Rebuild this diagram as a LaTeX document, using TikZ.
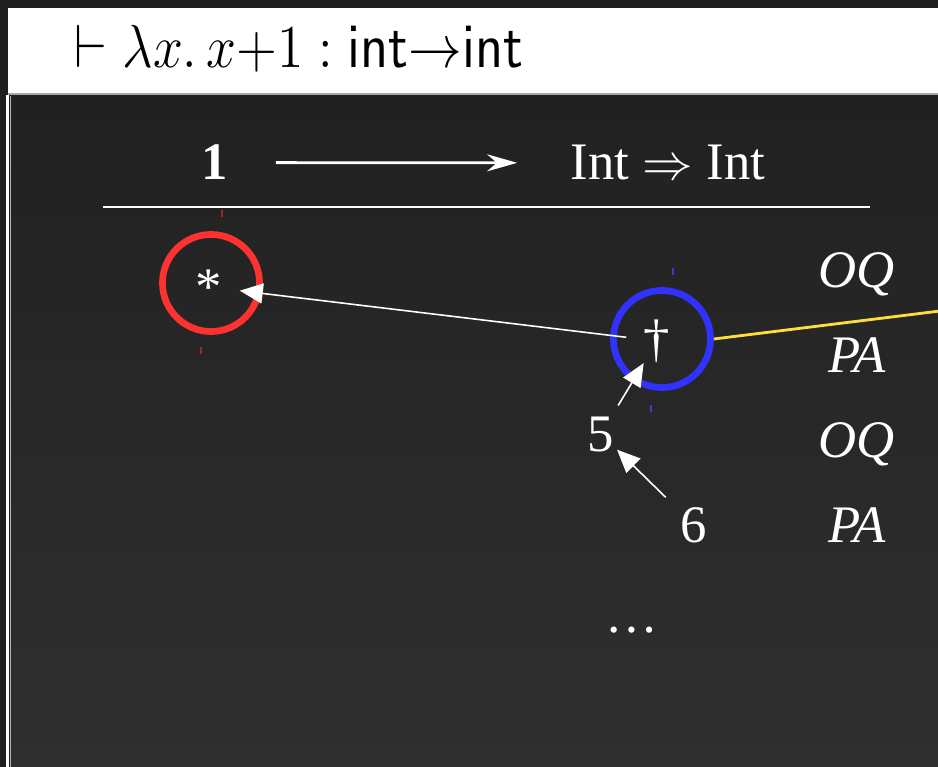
\documentclass[tikz,border=0pt]{standalone}
\usepackage{fontspec}
\newfontfamily\timesfont{Liberation Serif}
\usetikzlibrary{arrows.meta}
\definecolor{FrameDark}{RGB}{31,31,31}
\definecolor{PanelTop}{RGB}{33,33,33}
\definecolor{PanelBottom}{RGB}{47,47,47}
\definecolor{MoveRed}{RGB}{255,50,50}
\definecolor{TickRed}{RGB}{170,35,35}
\definecolor{MoveBlue}{RGB}{50,50,255}
\definecolor{TickBlue}{RGB}{60,60,210}
\definecolor{LinkYellow}{RGB}{255,222,60}

\begin{document}
\begin{tikzpicture}[x=0.01cm, y=-0.01cm]
    \tikzset{
        gamelabel/.style={text=white, inner sep=0pt,
            font=\timesfont\fontsize{15}{18}\selectfont},
        movelabel/.style={gamelabel, font=\timesfont\itshape\fontsize{15}{18}\selectfont},
        movering/.style={circle, line width=1.9pt, minimum size=0.97cm, inner sep=0pt},
        pointer/.style={white, line width=0.45pt, -{Triangle[length=2.3mm, width=2mm]}},
        objarrow/.style={white, line width=0.8pt, -{Stealth[length=3mm, width=1.7mm]}},
        anchortick/.style={line width=0.5pt}
    }
    \useasboundingbox (0,0) rectangle (938,767);
    % frame and panels
    \fill[FrameDark] (0,0) rectangle (938,767);
    \fill[white] (8,8) rectangle (938,93);
    \draw[gray!70, line width=0.7pt] (8,94) -- (938,94);
    \fill[white] (6,95) rectangle (9,767);
    \shade[top color=PanelTop, bottom color=PanelBottom] (11,96) rectangle (938,767);
    \draw[gray!60, line width=0.3pt] (10.5,96) -- (10.5,767);
    \node[anchor=base west, inner sep=0pt, font=\fontsize{15}{18}\selectfont] (judgement)
        at (74,68) {\scalebox{1.06}[1.2]{$\vdash \lambda x.\, x{+}1 : \mathsf{int}{\to}\mathsf{int}$}};
    % objects of the arena
    \node[gamelabel, anchor=base] (unitobj) at (215,180) {\bfseries 1};
    \node[gamelabel, anchor=base] (arrowobj) at (668,180) {Int $\Rightarrow$ Int};
    \draw[objarrow, shorten <=4.7mm, shorten >=5.3mm] (unitobj) -- (arrowobj);
    \draw[white, line width=0.7pt] (103,207) -- (870,207);
    % moves
    \node[movering, draw=MoveRed] (ownring) at (211,283) {};
    \node[movering, draw=MoveBlue] (oppring) at (662,339) {};
    \node[gamelabel] (star) at (209,287) {*};
    \node[gamelabel] (dagger) at (657,341) {\dag};
    \node[gamelabel] (five) at (601,434) {5};
    \node[gamelabel] (six) at (694,525) {6};
    \node[gamelabel] (dots) at (632,630) {\ldots};
    \draw[anchortick, TickRed] (222,210) -- (222,217);
    \draw[anchortick, TickRed] (201,347) -- (201,354);
    \draw[anchortick, TickBlue] (673,268) -- (673,275);
    \draw[anchortick, TickBlue] (651,405) -- (651,412);
    \draw[pointer, shorten <=1.7mm, shorten >=1.7mm] (dagger) -- (star);
    \draw[pointer, shorten <=1.2mm, shorten >=0mm] (five) -- (dagger);
    \draw[pointer, shorten <=2mm, shorten >=0.3mm] (six) -- (five);
    \coordinate (offright) at (940,311);
    \draw[LinkYellow, line width=0.8pt] (oppring.east) -- (offright);
    % polarities
    \node[movelabel, anchor=base] (oq1) at (857,288) {OQ};
    \node[movelabel, anchor=base] (pa1) at (857,373) {PA};
    \node[movelabel, anchor=base] (oq2) at (857,458) {OQ};
    \node[movelabel, anchor=base] (pa2) at (857,543) {PA};
\end{tikzpicture}
\end{document}
